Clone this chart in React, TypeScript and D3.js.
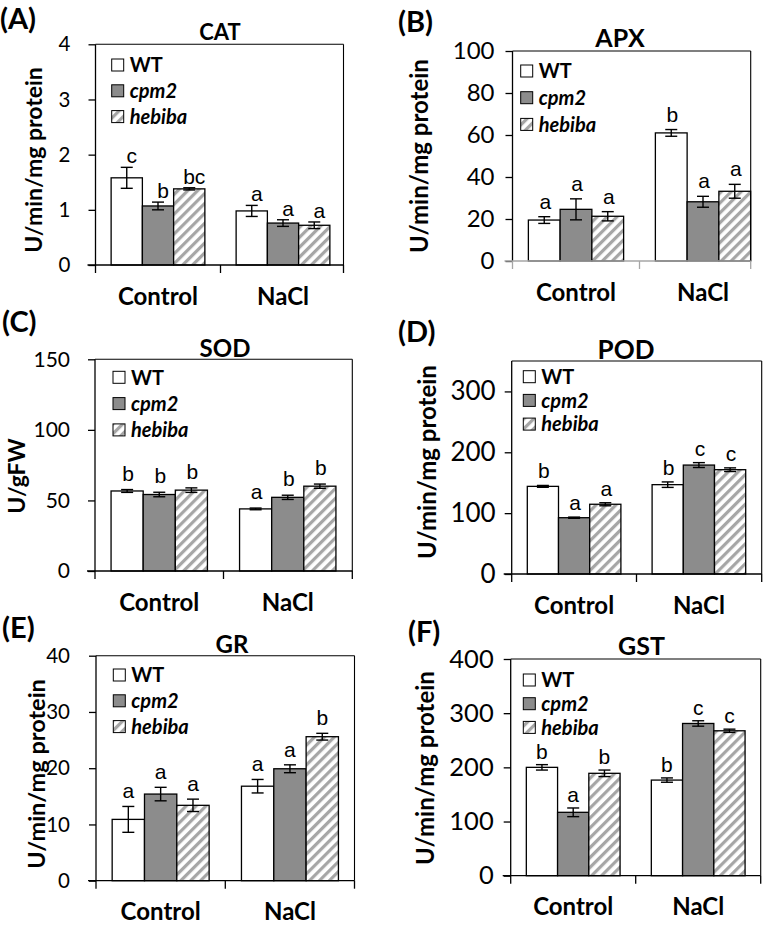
import React, { useEffect, useRef } from 'react';
import * as d3 from 'd3';

const groups = ['Control', 'NaCl'];
const genotypes = ['WT', 'cpm2', 'hebiba'];

// order: Control WT, cpm2, hebiba, NaCl WT, cpm2, hebiba
const catValues = [1.58, 1.07, 1.38, 0.98, 0.76, 0.72];
const catErrors = [0.19, 0.07, 0.02, 0.1, 0.06, 0.06];
const catLetters = ['c', 'b', 'bc', 'a', 'a', 'a'];

const apxValues = [19.5, 24.6, 21.3, 61, 28.2, 33.2];
const apxErrors = [1.6, 5, 2.2, 1.6, 2.6, 3.3];
const apxLetters = ['a', 'a', 'a', 'b', 'a', 'a'];

const sodValues = [56.7, 54.2, 57.3, 44, 52.2, 60.1];
const sodErrors = [1, 1.6, 1.6, 0.6, 1.5, 1.5];
const sodLetters = ['b', 'b', 'b', 'a', 'b', 'b'];

const podValues = [144, 92.5, 114.6, 146.8, 179, 171.4];
const podErrors = [1.5, 1, 2.5, 4.5, 4, 3];
const podLetters = ['b', 'a', 'a', 'b', 'c', 'c'];

const grValues = [10.9, 15.4, 13.4, 16.8, 19.9, 25.6];
const grErrors = [2.3, 1.2, 1.1, 1.2, 0.7, 0.6];
const grLetters = ['a', 'a', 'a', 'a', 'a', 'b'];

const gstValues = [200, 117, 189, 176.5, 281, 267.5];
const gstErrors = [5, 8, 6, 4, 5, 3];
const gstLetters = ['b', 'a', 'b', 'b', 'c', 'c'];

const panels = [
  {
    tag: '(A)', tagX: 0, tagY: 29, title: 'CAT', titleX: 220, titleSize: 22, titleGap: 4,
    yLabel: 'U/min/mg protein', yLabelX: 42, yLabelY: 160, yLabelSize: 23,
    values: catValues, errors: catErrors, letters: catLetters, yMax: 4, yTicks: [0, 1, 2, 3, 4],
    left: 95.5, right: 343.5, top: 44.3, bottom: 265, band: 125, tickPad: 18, tickFont: 20.5,
    legendX: 111.7, legendY: 65, legendGap: 25.8, letterDx: 5, letterGap: 4, xAxisColor: '#000',
  },
  {
    tag: '(B)', tagX: 398, tagY: 32, title: 'APX', titleX: 620, titleSize: 25, titleGap: 4.3,
    yLabel: 'U/min/mg protein', yLabelX: 428, yLabelY: 156, yLabelSize: 24,
    values: apxValues, errors: apxErrors, letters: apxLetters, yMax: 100, yTicks: [0, 20, 40, 60, 80, 100],
    left: 512.5, right: 750.7, top: 51, bottom: 261, band: 127, tickPad: 11, tickFont: 24,
    legendX: 520.7, legendY: 71, legendGap: 26.7, letterDx: 1, letterGap: 8, xAxisColor: '#a6a6a6',
  },
  {
    tag: '(C)', tagX: 2, tagY: 332, title: 'SOD', titleX: 225, titleSize: 24, titleGap: 2.6,
    yLabel: 'U/gFW', yLabelX: 25, yLabelY: 476, yLabelSize: 23,
    values: sodValues, errors: sodErrors, letters: sodLetters, yMax: 150, yTicks: [0, 50, 100, 150],
    left: 95, right: 352.3, top: 359.3, bottom: 571, band: 128.5, tickPad: 18, tickFont: 21,
    legendX: 113, legendY: 377.3, legendGap: 26.3, letterDx: 1, letterGap: 9, xAxisColor: '#000',
  },
  {
    tag: '(D)', tagX: 398, tagY: 342, title: 'POD', titleX: 626, titleSize: 26, titleGap: 2,
    yLabel: 'U/min/mg protein', yLabelX: 436, yLabelY: 462, yLabelSize: 24,
    values: podValues, errors: podErrors, letters: podLetters, yMax: 350, yTicks: [0, 100, 200, 300],
    left: 511.7, right: 761.7, top: 361, bottom: 574, band: 124.8, tickPad: 9, tickFont: 26,
    legendX: 523.3, legendY: 376.7, legendGap: 23.7, letterDx: 1, letterGap: 7, xAxisColor: '#000',
  },
  {
    tag: '(E)', tagX: 2, tagY: 638, title: 'GR', titleX: 232, titleSize: 24, titleGap: 2.7,
    yLabel: 'U/min/mg protein', yLabelX: 45, yLabelY: 774, yLabelSize: 23.5,
    values: grValues, errors: grErrors, letters: grLetters, yMax: 40, yTicks: [0, 10, 20, 30, 40],
    left: 96, right: 354.5, top: 655.7, bottom: 880.7, band: 129.3, tickPad: 19, tickFont: 20.5,
    legendX: 113.3, legendY: 675, legendGap: 25.8, letterDx: 0, letterGap: 8, xAxisColor: '#000',
  },
  {
    tag: '(F)', tagX: 408, tagY: 642, title: 'GST', titleX: 641.5, titleSize: 25, titleGap: 4,
    yLabel: 'U/min/mg protein', yLabelX: 434, yLabelY: 768, yLabelSize: 24,
    values: gstValues, errors: gstErrors, letters: gstLetters, yMax: 400, yTicks: [0, 100, 200, 300, 400],
    left: 510.7, right: 760.7, top: 659, bottom: 875.7, band: 125, tickPad: 10, tickFont: 25.5,
    legendX: 523.3, legendY: 680, legendGap: 23.7, letterDx: 0, letterGap: 6, xAxisColor: '#000',
  },
];

const FONT = 'Lato, "Open Sans", sans-serif';
const LETTER_FONT = '"Liberation Sans", Arial, sans-serif';
const fills = ['#ffffff', '#8c8c8c', 'url(#hatch)'];

function drawPanel(svg, p) {
  const x = d3.scaleBand().domain(groups).range([p.left, p.left + 2 * p.band]);
  const xs = d3.scaleBand().domain(genotypes).range([0, p.band]).paddingOuter(0.5);
  const y = d3.scaleLinear().domain([0, p.yMax]).range([p.bottom, p.top]);

  const rows = [];
  groups.forEach((g, gi) => {
    genotypes.forEach((gt, ti) => {
      const k = gi * 3 + ti;
      rows.push({ g, gt, ti, v: p.values[k], e: p.errors[k], letter: p.letters[k] });
    });
  });

  const g = svg.append('g');

  // Bars
  g.selectAll('rect.bar')
    .data(rows)
    .enter()
    .append('rect')
      .attr('class', 'bar')
      .attr('x', d => x(d.g) + xs(d.gt))
      .attr('y', d => y(d.v))
      .attr('width', xs.bandwidth())
      .attr('height', d => y(0) - y(d.v))
      .attr('fill', d => fills[d.ti])
      .attr('stroke', '#000')
      .attr('stroke-width', 1.3);

  // Error bars
  const cx = d => x(d.g) + xs(d.gt) + xs.bandwidth() / 2;
  const err = g.append('g').attr('stroke', '#000').attr('stroke-width', 1.4);
  rows.forEach(d => {
    err.append('line').attr('x1', cx(d)).attr('x2', cx(d)).attr('y1', y(d.v - d.e)).attr('y2', y(d.v + d.e));
    err.append('line').attr('x1', cx(d) - 6).attr('x2', cx(d) + 6).attr('y1', y(d.v - d.e)).attr('y2', y(d.v - d.e));
    err.append('line').attr('x1', cx(d) - 6).attr('x2', cx(d) + 6).attr('y1', y(d.v + d.e)).attr('y2', y(d.v + d.e));
  });

  // Significance letters
  g.selectAll('text.letter')
    .data(rows)
    .enter()
    .append('text')
      .attr('class', 'letter')
      .attr('x', d => cx(d) + p.letterDx)
      .attr('y', d => y(d.v + d.e) - p.letterGap)
      .attr('text-anchor', 'middle')
      .attr('font-family', LETTER_FONT)
      .attr('font-size', 21)
      .text(d => d.letter);

  // Frame
  g.append('line').attr('x1', p.left).attr('x2', p.right).attr('y1', p.top).attr('y2', p.top)
    .attr('stroke', '#000').attr('stroke-width', 1.1);
  g.append('line').attr('x1', p.right).attr('x2', p.right).attr('y1', p.top).attr('y2', p.bottom)
    .attr('stroke', '#000').attr('stroke-width', 1.1);

  // y axis
  const yAxis = g.append('g')
    .attr('transform', `translate(${p.left},0)`)
    .call(d3.axisLeft(y).tickValues(p.yTicks).tickFormat(d3.format('d'))
      .tickSize(7).tickSizeOuter(0).tickPadding(p.tickPad));
  yAxis.select('.domain').remove();
  yAxis.selectAll('line').attr('stroke', '#000').attr('stroke-width', 1.3);
  yAxis.selectAll('text')
    .attr('font-family', FONT)
    .attr('font-size', p.tickFont)
    .attr('fill', '#000');
  g.append('line').attr('x1', p.left).attr('x2', p.left).attr('y1', p.top).attr('y2', p.bottom)
    .attr('stroke', '#000').attr('stroke-width', 1.3);

  // x axis
  g.append('line').attr('x1', p.left - 8).attr('x2', p.right).attr('y1', p.bottom).attr('y2', p.bottom)
    .attr('stroke', p.xAxisColor).attr('stroke-width', 1.3);
  [p.left, p.left + p.band, p.right].forEach(t => {
    g.append('line').attr('x1', t).attr('x2', t).attr('y1', p.bottom).attr('y2', p.bottom + 8)
      .attr('stroke', p.xAxisColor).attr('stroke-width', 1.3);
  });
  groups.forEach(gr => {
    g.append('text')
      .attr('x', x(gr) + x.bandwidth() / 2)
      .attr('y', p.bottom + 39.5)
      .attr('text-anchor', 'middle')
      .attr('font-family', FONT)
      .attr('font-weight', 'bold')
      .attr('font-size', 24)
      .text(gr);
  });

  // Title, tag, y label
  g.append('text')
    .attr('x', p.titleX).attr('y', p.top - p.titleGap)
    .attr('text-anchor', 'middle')
    .attr('font-family', FONT).attr('font-weight', 'bold').attr('font-size', p.titleSize)
    .text(p.title);
  g.append('text')
    .attr('x', p.tagX).attr('y', p.tagY)
    .attr('font-family', FONT).attr('font-weight', 'bold').attr('font-size', 29)
    .text(p.tag);
  g.append('text')
    .attr('transform', `translate(${p.yLabelX},${p.yLabelY}) rotate(-90)`)
    .attr('text-anchor', 'middle')
    .attr('font-family', FONT).attr('font-weight', 'bold').attr('font-size', p.yLabelSize)
    .text(p.yLabel);

  // Legend
  genotypes.forEach((gt, i) => {
    const ly = p.legendY + i * p.legendGap;
    g.append('rect')
      .attr('x', p.legendX).attr('y', ly - 6).attr('width', 12).attr('height', 12)
      .attr('fill', fills[i]).attr('stroke', '#000').attr('stroke-width', 1);
    g.append('text')
      .attr('x', p.legendX + 18).attr('y', ly).attr('dy', '0.36em')
      .attr('font-family', FONT).attr('font-weight', 'bold').attr('font-size', 20)
      .attr('font-style', i === 0 ? 'normal' : 'italic')
      .text(gt);
  });
}

export default function App() {
  const ref = useRef(null);

  useEffect(() => {
    const svg = d3.select(ref.current);
    svg.selectAll('*').remove();

    const defs = svg.append('defs');
    const pat = defs.append('pattern')
      .attr('id', 'hatch')
      .attr('patternUnits', 'userSpaceOnUse')
      .attr('width', 7)
      .attr('height', 7)
      .attr('patternTransform', 'rotate(45)');
    pat.append('rect').attr('width', 7).attr('height', 7).attr('fill', '#fff');
    pat.append('rect').attr('width', 3.2).attr('height', 7).attr('fill', '#a6a6a6');

    panels.forEach(p => drawPanel(svg, p));
  }, []);

  return (
    <svg
      ref={ref}
      width={768}
      height={930}
      style={{ position: 'absolute', left: 0, top: 0, background: '#fff' }}
    />
  );
}
